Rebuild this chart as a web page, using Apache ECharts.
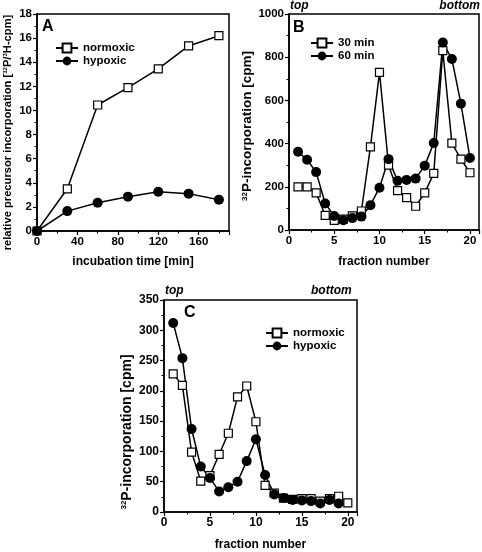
<!DOCTYPE html>
<html><head><meta charset="utf-8">
<script src="https://cdn.jsdelivr.net/npm/echarts@6/dist/echarts.min.js"></script>
<style>html,body{margin:0;padding:0;background:#fff}#c{width:482px;height:552px}</style>
</head><body><div id="c"></div>
<script>
// Panel A
const timeMin = [0, 30, 60, 90, 120, 150, 180];
const aNormoxic = [0, 3.5, 10.45, 11.9, 13.45, 15.35, 16.2];
const aHypoxic = [0, 1.65, 2.35, 2.85, 3.25, 3.1, 2.6];
// Panel B
const fractionsB = [1,2,3,4,5,6,7,8,9,10,11,12,13,14,15,16,17,18,19,20];
const b30min = [200,200,172,68,45,50,65,88,385,730,300,182,150,110,172,262,830,402,328,265];
const b60min = [362,325,268,123,65,45,55,62,115,196,328,228,232,238,298,403,868,792,585,333];
// Panel C
const fractionsCNormoxic = [1,2,3,4,5,6,7,8,9,10,11,12,13,14,15,16,17,18,19,20];
const cNormoxic = [228,209,99,51,60,95,130,190,208,149,44,31,23,21,22,22,18,22,26,15];
const fractionsCHypoxic = [1,2,3,4,5,6,7,8,9,10,11,12,13,14,15,16,17,18,19];
const cHypoxic = [312,254,137,75,56,34,41,50,84,120,61,29,23,20,19,18,14,20,14];
// tick labels
const xTicksA = [0, 40, 80, 120, 160];
const xTicksBC = [0, 5, 10, 15, 20];

const FONT = "'Liberation Sans', Arial, sans-serif";
const pairs = (xs, ys) => xs.map((x, i) => [x, ys[i]]);

const chart = echarts.init(document.getElementById('c'), null, {renderer: 'canvas'});

function supRich(size) {
  return {
    sup: {fontSize: Math.round(size * 0.58), fontWeight: 'bold', fontFamily: FONT, color: '#000', verticalAlign: 'bottom', padding: [0,0,Math.round(size*0.45),0]}
  };
}

function xAxisDef(gridIndex, max, interval, ticks, name, gap, fs) {
  return {
    gridIndex, type: 'value', min: 0, max, interval,
    name, nameLocation: 'middle', nameGap: gap,
    nameTextStyle: {fontFamily: FONT, fontWeight: 'bold', fontSize: 12, color: '#000'},
    axisLine: {show: true, onZero: false, lineStyle: {color: '#000', width: 1.5}},
    axisTick: {show: true, inside: false, length: 4, lineStyle: {color: '#000', width: 1.2}},
    minorTick: {show: true, splitNumber: 2, length: 2.5, lineStyle: {color: '#000', width: 1}},
    splitLine: {show: false},
    axisLabel: {
      fontFamily: FONT, fontWeight: 'bold', fontSize: fs, color: '#000', margin: 5,
      formatter: v => ticks.indexOf(v) >= 0 ? String(v) : ''
    }
  };
}
function yAxisDef(gridIndex, max, interval, name, gap, nameSize, shiftDown, fs) {
  return {
    gridIndex, type: 'value', min: 0, max, interval,
    name, nameLocation: 'middle', nameGap: gap, nameRotate: 90,
    nameTextStyle: {fontFamily: FONT, fontWeight: 'bold', fontSize: nameSize, color: '#000',
      rich: supRich(nameSize), padding: [0, shiftDown * 2, 0, 0]},
    axisLine: {show: true, onZero: false, lineStyle: {color: '#000', width: 1.5}},
    axisTick: {show: true, inside: false, length: 4, lineStyle: {color: '#000', width: 1.2}},
    minorTick: {show: true, splitNumber: 2, length: 2.5, lineStyle: {color: '#000', width: 1}},
    splitLine: {show: false},
    axisLabel: {fontFamily: FONT, fontWeight: 'bold', fontSize: fs, color: '#000', margin: 5,
      formatter: v => String(v)}
  };
}

const openSquare = {symbol: 'rect', symbolSize: 8, itemStyle: {color: '#fff', borderColor: '#000', borderWidth: 1.2}};
const filledCircle = {symbol: 'circle', symbolSize: 10, itemStyle: {color: '#000', borderColor: '#000', borderWidth: 0}};
function lineSeries(name, xi, data, style) {
  return Object.assign({
    type: 'line', name, xAxisIndex: xi, yAxisIndex: xi, data,
    lineStyle: {color: '#000', width: 1.5}, showAllSymbol: true, animation: false,
    emphasis: {disabled: true}
  }, style);
}

function legendDef(names, left, top) {
  return {
    data: names, left, top, orient: 'vertical', padding: 0, itemWidth: 22, itemHeight: 11, itemGap: 1,
    textStyle: {fontFamily: FONT, fontWeight: 'bold', fontSize: 11.5, color: '#000', lineHeight: 12},
    selectedMode: false
  };
}

function label(text, left, top, size, italic) {
  return {
    type: 'text', left, top,
    style: {text, fill: '#000', font: (italic ? 'italic ' : '') + 'bold ' + size + 'px ' + FONT}
  };
}

const option = {
  backgroundColor: '#fff',
  animation: false,
  grid: [
    {left: 37, top: 14, width: 192, height: 217, show: true, borderColor: '#000', borderWidth: 1.5, backgroundColor: 'transparent'},
    {left: 289, top: 14, width: 191, height: 216, show: true, borderColor: '#000', borderWidth: 1.5, backgroundColor: 'transparent'},
    {left: 164, top: 300, width: 193, height: 216, show: true, borderColor: '#000', borderWidth: 1.5, backgroundColor: 'transparent'}
  ],
  xAxis: [
    xAxisDef(0, 190, 40, xTicksA, 'incubation time [min]', 25, 11.5),
    xAxisDef(1, 21, 5, xTicksBC, 'fraction number', 26, 11.5),
    xAxisDef(2, 21, 5, xTicksBC, 'fraction number', 27, 12)
  ],
  yAxis: [
    yAxisDef(0, 18, 2, 'relative precursor incorporation [{sup|32}P/{sup|3}H-cpm]', 24, 11.2, 10, 11.5),
    yAxisDef(1, 1000, 200, '{sup|32}P-incorporation [cpm]', 15, 13.5, 4, 11.5),
    yAxisDef(2, 350, 50, '{sup|32}P-incorporation [cpm]', 30, 14, 26, 12)
  ],
  legend: [
    legendDef(['normoxic', 'hypoxic'], 55, 42),
    legendDef(['30 min', '60 min'], 310, 37),
    legendDef(['normoxic', 'hypoxic'], 265, 327)
  ],
  series: [
    lineSeries('normoxic', 0, pairs(timeMin, aNormoxic), openSquare),
    lineSeries('hypoxic', 0, pairs(timeMin, aHypoxic), filledCircle),
    lineSeries('30 min', 1, pairs(fractionsB, b30min), openSquare),
    lineSeries('60 min', 1, pairs(fractionsB, b60min), filledCircle),
    lineSeries('normoxic', 2, pairs(fractionsCNormoxic, cNormoxic), openSquare),
    lineSeries('hypoxic', 2, pairs(fractionsCHypoxic, cHypoxic), filledCircle)
  ],
  graphic: [
    label('A', 42, 19, 16, false),
    label('B', 293, 20, 16, false),
    label('C', 184, 305, 16, false),
    label('top', 290, 0, 12, true),
    {type: 'text', right: 2, top: 0, style: {text: 'bottom', fill: '#000', font: 'italic bold 12px ' + FONT}},
    label('top', 165, 285, 12, true),
    {type: 'text', left: 311, top: 285, style: {text: 'bottom', fill: '#000', font: 'italic bold 12px ' + FONT}}
  ]
};
chart.setOption(option);
</script>
</body></html>
